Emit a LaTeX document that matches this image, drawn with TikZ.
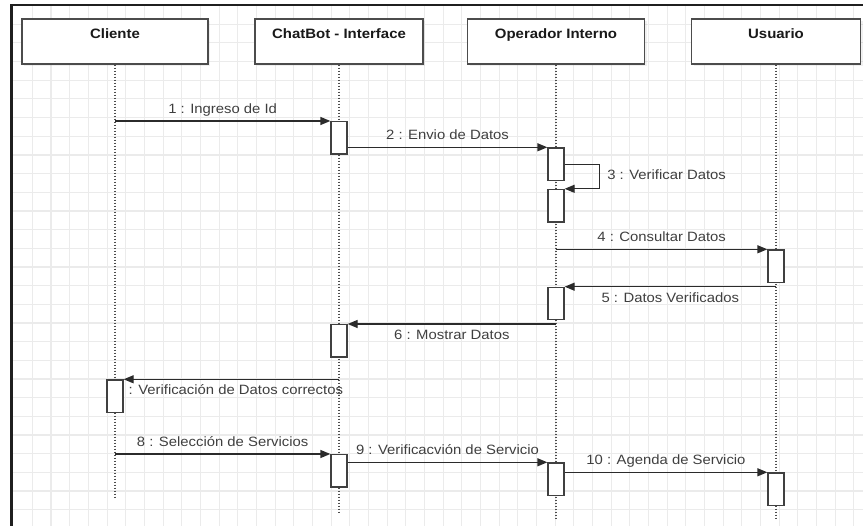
\documentclass[tikz,border=0pt]{standalone}
\usepackage{fontspec}
\setmainfont{Liberation Sans}[FakeStretch=1.1]
\usetikzlibrary{arrows.meta,shadows}
\definecolor{ink}{HTML}{2B2B2B}
\definecolor{labelgray}{HTML}{3F3F3F}
\definecolor{gridgray}{HTML}{EBEBEB}
\begin{document}
\begin{tikzpicture}[x=1pt,y=-1pt,
  actor/.style={draw=black!70, line width=1.3pt, fill=white, anchor=north,
    minimum height=45pt, inner ysep=0pt, text height=19.7pt, text depth=25.3pt,
    font=\bfseries\fontsize{13.6}{16}\selectfont, text=black!90,
    drop shadow={shadow xshift=2pt, shadow yshift=-2.5pt, opacity=0.12}},
  act/.style={draw=black!75, line width=1.3pt, fill=white, anchor=north,
    minimum width=16pt, minimum height=32.5pt, inner sep=0pt},
  life/.style={draw=black!70, line width=1.4pt, dash pattern=on 1.4pt off 1.6pt},
  msg/.style={draw=ink, line width=1.3pt, -{Triangle[length=10pt,width=8pt]}},
  lbl/.style={font=\fontsize{13.5}{16}\selectfont, text=labelgray, inner sep=0pt,
    text height=10pt, text depth=3pt},
  above lbl/.style={lbl, midway, yshift=11pt},
  below lbl/.style={lbl, midway, yshift=-12pt},
  gridline/.style={draw=gridgray, line width=1.1pt},
  frameline/.style={draw=black!88, line width=2.6pt},
]
\useasboundingbox (0,0) rectangle (863,526);

% background grid
\foreach \i in {1,...,45}
  \draw[gridline] ({13.7+18.67*\i},6) -- ({13.7+18.67*\i},526);
\foreach \j in {1,...,28}
  \draw[gridline] (12,{5.6+18.67*\j}) -- (863,{5.6+18.67*\j});

% outer frame (left and top edges)
\draw[frameline] (11.5,526) -- (11.5,5) -- (863,5);

% participants
\node[actor, minimum width=186pt] (cl) at (115,18.3) {Cliente};
\node[actor, minimum width=168pt] (cb) at (339,18.3) {ChatBot - Interface};
\node[actor, minimum width=177pt] (op) at (556,18.3) {Operador Interno};
\node[actor, minimum width=169pt] (us) at (776,18.3) {Usuario};

% lifelines
\draw[life] (cl.south) -- (cl.south |- 0,498);
\draw[life] (cb.south) -- (cb.south |- 0,512);
\draw[life] (op.south) -- (op.south |- 0,518);
\draw[life] (us.south) -- (us.south |- 0,518);

% activation bars
\node[act] (cb1) at (339,121) {};
\node[act] (op1) at (556,147.3) {};
\node[act] (op2) at (556,188.8) {};
\node[act] (us1) at (776,249.3) {};
\node[act] (op3) at (556,286.7) {};
\node[act] (cb2) at (339,324) {};
\node[act] (cl1) at (115,379.3) {};
\node[act] (cb3) at (339,454) {};
\node[act] (op4) at (556,462.3) {};
\node[act] (us2) at (776,472.3) {};

% messages
\draw[msg] (cl.south |- cb1.north) -- node[above lbl] {1 : Ingreso de Id} (cb1.north west);
\draw[msg] (cb1.east |- op1.north) -- node[above lbl] {2 : Envio de Datos} (op1.north west);
\draw[msg] (op1.east) -- ++(35,0) |- node[lbl, pos=0.25, anchor=west, xshift=7pt] {3 : Verificar Datos} (op2.north east);
\draw[msg] (op.south |- us1.north) -- node[above lbl] {4 : Consultar Datos} (us1.north west);
\draw[msg] (us.south |- op3.north) -- node[below lbl] {5 : Datos Verificados} (op3.north east);
\draw[msg] (op.south |- cb2.north) -- node[below lbl] {6 : Mostrar Datos} (cb2.north east);
\draw[msg] (cb.south |- cl1.north) -- node[below lbl, xshift=4.5pt] {: Verificación de Datos correctos} (cl1.north east);
\draw[msg] (cl.south |- cb3.north) -- node[above lbl] {8 : Selección de Servicios} (cb3.north west);
\draw[msg] (cb3.east |- op4.north) -- node[above lbl] {9 : Verificacvión de Servicio} (op4.north west);
\draw[msg] (op4.east |- us2.north) -- node[above lbl] {10 : Agenda de Servicio} (us2.north west);
\end{tikzpicture}
\end{document}
